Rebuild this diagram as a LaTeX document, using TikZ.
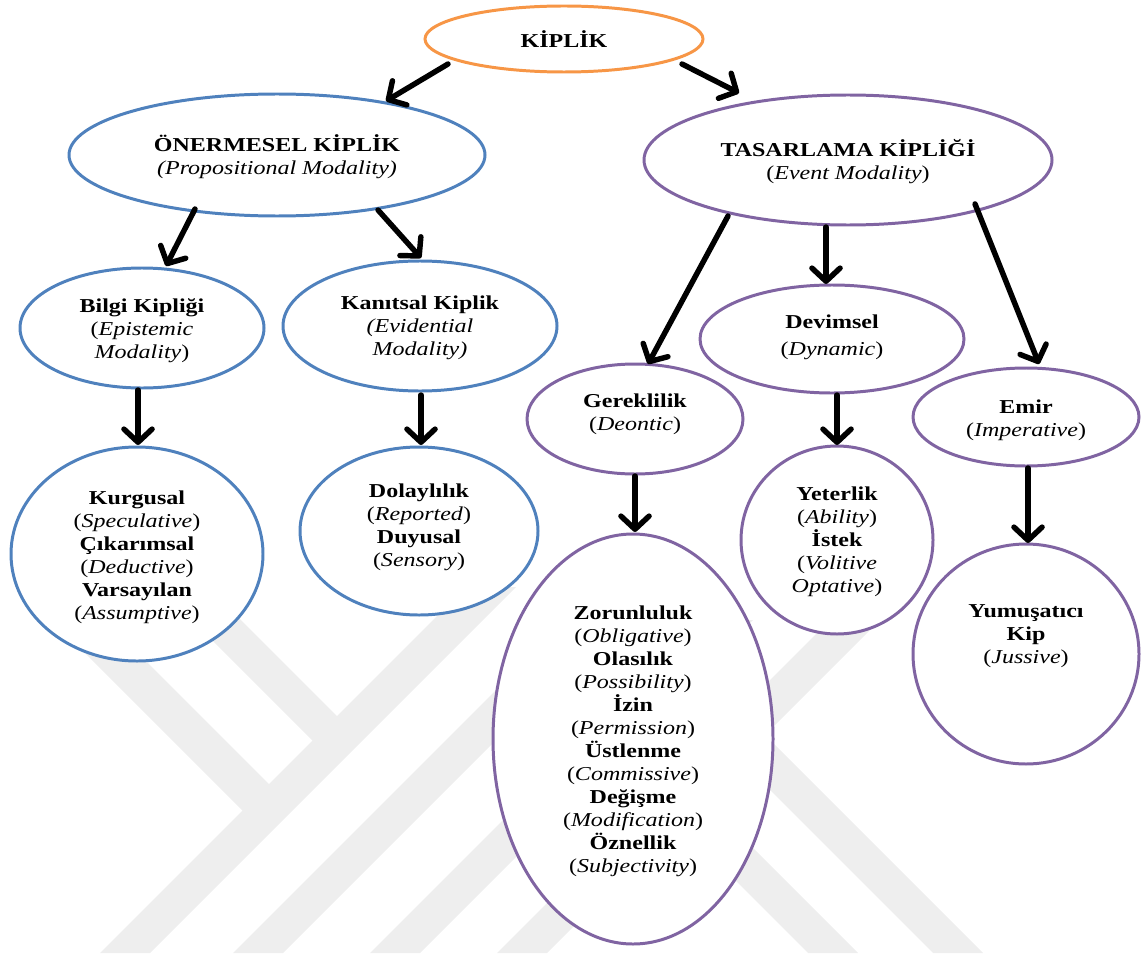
\documentclass[tikz,border=0pt]{standalone}
\usepackage{fontspec}
\setmainfont{Liberation Serif}[FakeStretch=1.22]
\usetikzlibrary{shapes.geometric,arrows.meta,calc}
\definecolor{cblue}{HTML}{4F81BD}
\definecolor{cpurp}{HTML}{8064A2}
\definecolor{corange}{HTML}{F79646}
\definecolor{wm}{HTML}{EEEEEE}
\begin{document}
\begin{tikzpicture}[x=0.02cm,y=-0.02cm,
  ell/.style={ellipse, draw, line width=1.7pt, fill=white, inner sep=0pt, outer sep=0pt},
  blell/.style={ell, draw=cblue},
  puell/.style={ell, draw=cpurp},
  orell/.style={ell, draw=corange},
  sz/.style 2 args={minimum width=#1*0.02cm, minimum height=#2*0.02cm},
  txt/.style={align=center, font=\fontsize{11.2}{13.1}\selectfont, inner sep=0pt},
  arr/.style={line width=3.1pt, line cap=round, -{Straight Barb[length=7.5pt,width=16pt,round]}}
]
\useasboundingbox (0,0) rectangle (1141,956);
% watermark
\fill[wm] (100,953) -- (150,953) -- (516,587) -- (466,587) -- cycle;
\fill[wm] (233,953) -- (283,953) -- (586,650) -- (536,650) -- cycle;
\fill[wm] (370,953) -- (420,953) -- (753,620) -- (703,620) -- cycle;
\fill[wm] (497,953) -- (547,953) -- (915,585) -- (865,585) -- cycle;
\fill[wm] (52,620) -- (105,620) -- (281.5,796.5) -- (255,823) -- cycle;
\fill[wm] (142,570) -- (191,570) -- (349.5,728.5) -- (325,753) -- cycle;
\fill[wm] (630,650) -- (680,650) -- (983,953) -- (933,953) -- cycle;
\fill[wm] (635,780) -- (685,780) -- (858,953) -- (808,953) -- cycle;
% ellipses
\node[orell, sz={278}{66}] (kip) at (564,39) {};
\node[blell, sz={416}{122}] (oner) at (277,155) {};
\node[puell, sz={408}{130}] (tas) at (848,160) {};
\node[blell, sz={244}{120}] (bilgi) at (142,328) {};
\node[blell, sz={274}{130}] (kanit) at (420,326) {};
\node[blell, sz={252}{214}] (kurg) at (137,554) {};
\node[blell, sz={238}{168}] (dolay) at (419,531) {};
\node[puell, sz={216}{110}] (gerek) at (635,419) {};
\node[puell, sz={264}{108}] (devim) at (832,339) {};
\node[puell, sz={226}{98}] (emir) at (1026,417) {};
\node[puell, sz={280}{410}] (zor) at (633,739) {};
\node[puell, sz={192}{188}] (yet) at (837,540) {};
\node[puell, sz={226}{220}] (yum) at (1026,654) {};
% texts
\node[txt] (kipT) at (564,39) {\textbf{KİPLİK}};
\node[txt] (onerT) at (277,157) {\textbf{ÖNERMESEL KİPLİK}\\\textit{(Propositional Modality)}};
\node[txt] (tasT) at (848,162) {\textbf{TASARLAMA KİPLİĞİ}\\(\textit{Event Modality})};
\node[txt] (bilgiT) at (142,331) {\textbf{Bilgi Kipliği}\\(\textit{Epistemic}\\\textit{Modality})};
\node[txt] (kanitT) at (420,328) {\textbf{Kanıtsal Kiplik}\\\textit{(Evidential}\\\textit{Modality)}};
\node[txt] (kurgT) at (137,557) {\textbf{Kurgusal}\\(\textit{Speculative})\\\textbf{Çıkarımsal}\\(\textit{Deductive})\\\textbf{Varsayılan}\\(\textit{Assumptive})};
\node[txt] (dolayT) at (419,527) {\textbf{Dolaylılık}\\(\textit{Reported})\\\textbf{Duyusal}\\(\textit{Sensory})};
\node[txt] (gerekT) at (635,414) {\textbf{Gereklilik}\\(\textit{Deontic})};
\node[txt] (devimT) at (832,337) {\textbf{Devimsel}\\[2.3pt](\textit{Dynamic})};
\node[txt] (emirT) at (1026,420) {\textbf{Emir}\\(\textit{Imperative})};
\node[txt] (zorT) at (633,741) {\textbf{Zorunluluk}\\(\textit{Obligative})\\\textbf{Olasılık}\\(\textit{Possibility})\\\textbf{İzin}\\(\textit{Permission})\\\textbf{Üstlenme}\\(\textit{Commissive})\\\textbf{Değişme}\\(\textit{Modification})\\\textbf{Öznellik}\\(\textit{Subjectivity})};
\node[txt] (yetT) at (837,542) {\textbf{Yeterlik}\\(\textit{Ability})\\\textbf{İstek}\\(\textit{Volitive}\\\textit{Optative})};
\node[txt] (yumT) at (1026,636) {\textbf{Yumuşatıcı}\\\textbf{Kip}\\(\textit{Jussive})};
% arrows
\draw[arr] ($(kip)+(-116,25)$) -- ($(oner)+(109,-54)$);
\draw[arr] ($(kip)+(118,25)$) -- ($(tas)+(-109,-67)$);
\draw[arr] ($(oner)+(-82,54)$) -- ($(bilgi)+(24,-62)$);
\draw[arr] ($(oner)+(101,55)$) -- ($(kanit)+(1,-68)$);
\draw[arr] ($(tas)+(-120,56)$) -- ($(gerek)+(13,-55)$);
\draw[arr] ($(tas)+(-22,67)$) -- ($(devim)+(-6,-55)$);
\draw[arr] ($(tas)+(127,44)$) -- ($(emir)+(13,-53)$);
\draw[arr] ($(bilgi)+(-4,62)$) -- ($(kurg)+(1,-109)$);
\draw[arr] ($(kanit)+(1,69)$) -- ($(dolay)+(2,-86)$);
\draw[arr] ($(gerek)+(0,57)$) -- ($(zor)+(2,-207)$);
\draw[arr] ($(devim)+(5,56)$) -- ($(yet)+(0,-95)$);
\draw[arr] ($(emir)+(2,51)$) -- ($(yum)+(2,-111)$);
\end{tikzpicture}
\end{document}
